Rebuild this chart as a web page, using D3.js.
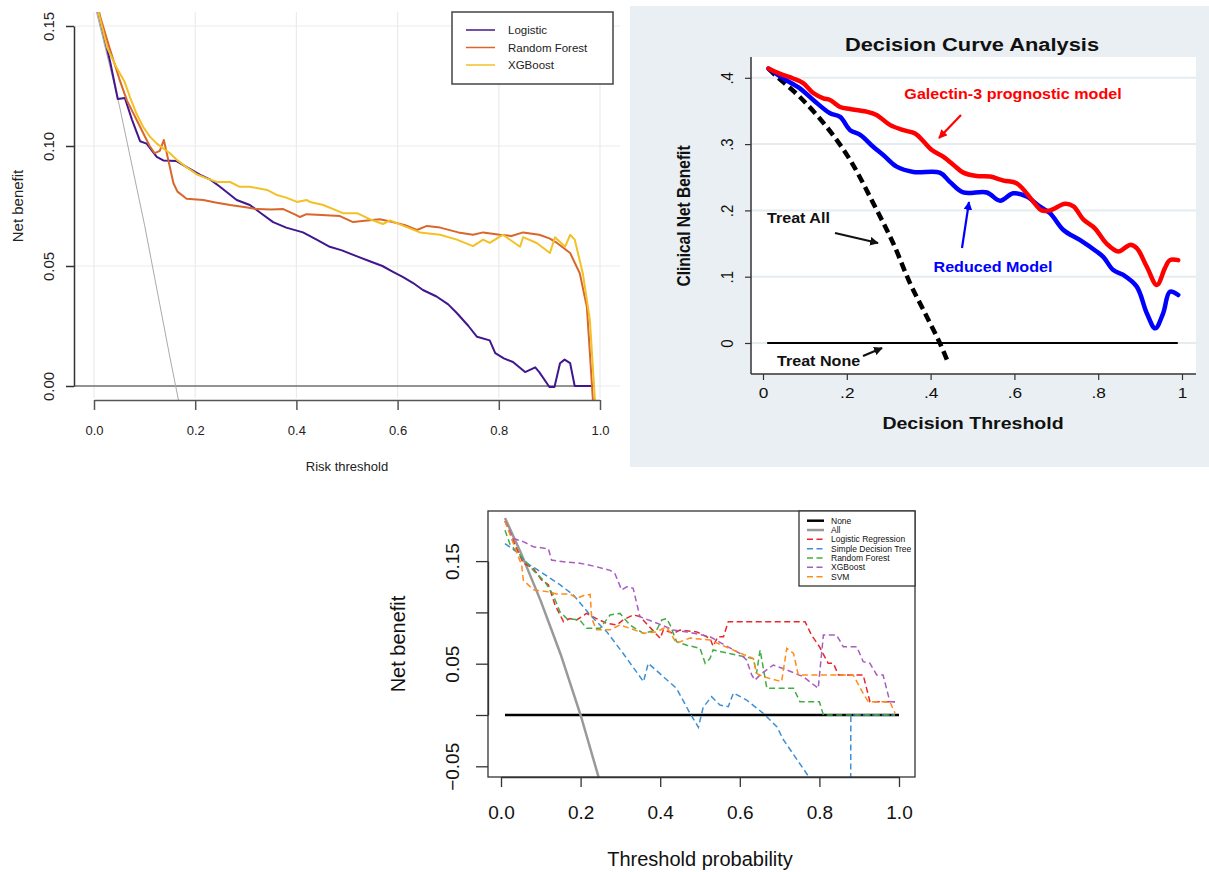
<!DOCTYPE html>
<html><head><meta charset="utf-8">
<script src="https://cdn.jsdelivr.net/npm/d3@7"></script>
<style>
body{margin:0;background:#fff}
svg{display:block}
text{font-family:"Liberation Sans",Arial,Helvetica,sans-serif}
</style>
</head><body>
<svg id="c" width="1209" height="872"></svg>
<script>
// ================= Panel A (top-left) =================
const aXTicks = [0, 0.2, 0.4, 0.6, 0.8, 1.0];
const aYTicks = [0, 0.05, 0.10, 0.15];
const aSeriesNames = ["Logistic", "Random Forest", "XGBoost"];
const aColors = ["#40178f", "#d9662b", "#f3c125"];
const aLogistic = [[0.006,0.158],[0.032,0.135],[0.047,0.1196],[0.061,0.120],[0.075,0.111],[0.091,0.102],[0.104,0.101],[0.124,0.0955],[0.137,0.094],[0.163,0.0937],[0.185,0.091],[0.21,0.088],[0.23,0.086],[0.249,0.083],[0.282,0.0775],[0.308,0.0754],[0.33,0.072],[0.354,0.0683],[0.38,0.066],[0.413,0.064],[0.44,0.061],[0.466,0.058],[0.49,0.0565],[0.52,0.054],[0.545,0.052],[0.57,0.050],[0.59,0.0477],[0.61,0.0455],[0.63,0.043],[0.65,0.040],[0.677,0.0373],[0.70,0.034],[0.717,0.0304],[0.74,0.025],[0.757,0.0205],[0.782,0.019],[0.793,0.0137],[0.81,0.0115],[0.828,0.010],[0.852,0.0058],[0.872,0.0078],[0.88,0.0058],[0.90,-0.0004],[0.91,-0.0004],[0.921,0.0095],[0.93,0.011],[0.941,0.0095],[0.95,0],[0.99,0]];
const aRandomForest = [[0.006,0.160],[0.012,0.154],[0.032,0.140],[0.05,0.128],[0.065,0.119],[0.091,0.108],[0.11,0.100],[0.12,0.097],[0.13,0.098],[0.138,0.1025],[0.147,0.094],[0.157,0.0845],[0.165,0.081],[0.183,0.078],[0.216,0.0775],[0.24,0.0765],[0.269,0.0754],[0.30,0.0745],[0.322,0.0737],[0.35,0.0735],[0.374,0.0737],[0.40,0.0712],[0.407,0.0704],[0.42,0.0716],[0.45,0.0712],[0.486,0.0708],[0.512,0.0683],[0.54,0.069],[0.565,0.0695],[0.59,0.0683],[0.615,0.067],[0.638,0.065],[0.658,0.0667],[0.684,0.066],[0.72,0.064],[0.749,0.063],[0.769,0.064],[0.802,0.063],[0.825,0.0625],[0.848,0.064],[0.88,0.063],[0.90,0.0615],[0.915,0.0596],[0.941,0.0554],[0.96,0.047],[0.974,0.033],[0.98,0.0137],[0.986,-0.006]];
const aXGBoost = [[0.006,0.158],[0.026,0.141],[0.045,0.1325],[0.06,0.127],[0.071,0.1204],[0.085,0.113],[0.097,0.108],[0.11,0.104],[0.124,0.101],[0.15,0.097],[0.165,0.094],[0.184,0.091],[0.205,0.088],[0.223,0.0865],[0.243,0.085],[0.269,0.085],[0.288,0.083],[0.308,0.083],[0.342,0.0817],[0.361,0.0796],[0.38,0.0785],[0.401,0.0767],[0.42,0.0775],[0.427,0.0767],[0.453,0.0754],[0.492,0.072],[0.52,0.072],[0.545,0.0695],[0.571,0.0675],[0.585,0.069],[0.618,0.0662],[0.644,0.064],[0.684,0.063],[0.717,0.061],[0.749,0.0583],[0.769,0.061],[0.782,0.0596],[0.808,0.063],[0.842,0.058],[0.848,0.062],[0.875,0.0596],[0.901,0.0554],[0.911,0.062],[0.931,0.058],[0.941,0.063],[0.95,0.061],[0.966,0.047],[0.98,0.0275],[0.99,-0.006]];
const aTreatAll = [[0.0,0.16],[0.05,0.117],[0.10,0.067],[0.15,0.012],[0.168,-0.007]];
const aTreatNone = [[-0.04,0],[0.99,0]];

// ================= Panel B (top-right) =================
const bXTicks = [0, 0.2, 0.4, 0.6, 0.8, 1];
const bXLabels = ["0", ".2", ".4", ".6", ".8", "1"];
const bYTicks = [0, 0.1, 0.2, 0.3, 0.4];
const bYLabels = ["0", ".1", ".2", ".3", ".4"];
const bGalectin = [[0.013,0.414],[0.041,0.406],[0.072,0.399],[0.096,0.392],[0.12,0.377],[0.144,0.369],[0.16,0.3665],[0.184,0.356],[0.208,0.353],[0.247,0.349],[0.271,0.344],[0.303,0.329],[0.335,0.321],[0.363,0.316],[0.383,0.304],[0.403,0.291],[0.43,0.281],[0.454,0.269],[0.478,0.257],[0.51,0.252],[0.542,0.251],[0.574,0.245],[0.605,0.241],[0.629,0.226],[0.649,0.210],[0.665,0.200],[0.685,0.200],[0.721,0.210],[0.741,0.206],[0.765,0.186],[0.792,0.173],[0.82,0.150],[0.848,0.138],[0.876,0.148],[0.892,0.143],[0.916,0.115],[0.94,0.0875],[0.959,0.1125],[0.971,0.125],[0.991,0.125]];
const bReduced = [[0.013,0.414],[0.048,0.399],[0.088,0.384],[0.12,0.3665],[0.16,0.3465],[0.184,0.341],[0.208,0.321],[0.232,0.314],[0.263,0.296],[0.287,0.2836],[0.319,0.266],[0.359,0.258],[0.422,0.257],[0.446,0.243],[0.478,0.227],[0.534,0.227],[0.566,0.2146],[0.597,0.2258],[0.629,0.221],[0.661,0.2056],[0.685,0.196],[0.717,0.1705],[0.757,0.155],[0.796,0.138],[0.812,0.130],[0.836,0.110],[0.86,0.1026],[0.892,0.085],[0.916,0.0448],[0.936,0.0222],[0.955,0.0448],[0.971,0.0774],[0.991,0.0724]];
const bTreatAll = [[0.013,0.414],[0.033,0.402],[0.088,0.371],[0.152,0.326],[0.208,0.276],[0.263,0.211],[0.311,0.15],[0.351,0.09],[0.391,0.0397],[0.422,0],[0.442,-0.03]];
const bTreatNone = [[0.01,0],[0.99,0]];

// ================= Panel C (bottom) =================
const cXTicks = [0, 0.2, 0.4, 0.6, 0.8, 1.0];
const cYTicks = [-0.05, 0, 0.05, 0.10, 0.15];
const cYLabeled = [-0.05, 0.05, 0.15];
const cNames = ["None", "All", "Logistic Regression", "Simple Decision Tree", "Random Forest", "XGBoost", "SVM"];
const cColors = ["#000000", "#999999", "#e8282c", "#3d8fd6", "#43ad44", "#a95cc0", "#ff8c1a"];
const cNone = [[0.01,0],[1.0,0]];
const cAll = [[0.01,0.192],[0.05,0.158],[0.10,0.111],[0.15,0.059],[0.20,0.0],[0.25,-0.067]];
const cLogistic = [[0.01,0.189],[0.035,0.166],[0.056,0.148],[0.081,0.143],[0.102,0.1316],[0.119,0.127],[0.136,0.107],[0.157,0.091],[0.173,0.094],[0.19,0.0926],[0.215,0.099],[0.24,0.094],[0.266,0.0893],[0.291,0.0877],[0.307,0.0926],[0.332,0.0975],[0.349,0.096],[0.40,0.0747],[0.408,0.083],[0.433,0.0796],[0.45,0.0828],[0.492,0.081],[0.525,0.0747],[0.533,0.067],[0.545,0.0763],[0.559,0.0763],[0.571,0.091],[0.764,0.091],[0.78,0.078],[0.80,0.0666],[0.822,0.0504],[0.835,0.0504],[0.848,0.039],[0.91,0.039],[0.927,0.013],[0.99,0.013]];
const cTree = [[0.01,0.167],[0.039,0.159],[0.065,0.148],[0.098,0.14],[0.148,0.127],[0.182,0.117],[0.224,0.0975],[0.266,0.081],[0.307,0.06],[0.358,0.0325],[0.37,0.0504],[0.408,0.0373],[0.441,0.026],[0.475,0.0016],[0.496,-0.012],[0.508,0.0075],[0.529,0.0178],[0.55,0.0097],[0.571,0.0081],[0.584,0.0215],[0.617,0.0146],[0.659,0.0016],[0.693,-0.0114],[0.71,-0.0244],[0.773,-0.06],[0.83,-0.11],[0.878,-0.16],[0.879,0],[0.99,0]];
const cRandomForest = [[0.01,0.18],[0.023,0.166],[0.048,0.156],[0.081,0.141],[0.11,0.13],[0.131,0.117],[0.148,0.1007],[0.165,0.094],[0.198,0.0926],[0.215,0.0845],[0.249,0.0845],[0.274,0.0975],[0.299,0.099],[0.324,0.0877],[0.358,0.0796],[0.391,0.0828],[0.404,0.0926],[0.416,0.094],[0.425,0.0877],[0.441,0.0715],[0.467,0.068],[0.50,0.065],[0.513,0.0504],[0.525,0.055],[0.533,0.0634],[0.634,0.055],[0.642,0.0406],[0.651,0.0634],[0.668,0.026],[0.735,0.026],[0.751,0.013],[0.80,0.013],[0.81,0],[0.99,0]];
const cXGBoost = [[0.01,0.189],[0.031,0.172],[0.056,0.169],[0.081,0.164],[0.119,0.162],[0.127,0.151],[0.165,0.149],[0.198,0.148],[0.24,0.1445],[0.274,0.141],[0.286,0.138],[0.303,0.122],[0.316,0.125],[0.332,0.1235],[0.349,0.0958],[0.404,0.0877],[0.433,0.0828],[0.467,0.081],[0.525,0.0763],[0.60,0.06],[0.617,0.0536],[0.63,0.039],[0.638,0.034],[0.655,0.0406],[0.684,0.0487],[0.718,0.0439],[0.76,0.0373],[0.797,0.026],[0.81,0.078],[0.843,0.078],[0.86,0.0666],[0.894,0.0666],[0.91,0.052],[0.927,0.0504],[0.944,0.039],[0.96,0.039],[0.977,0.013],[0.99,0.013]];
const cSVM = [[0.01,0.189],[0.039,0.159],[0.052,0.146],[0.056,0.1316],[0.081,0.122],[0.119,0.12],[0.14,0.118],[0.173,0.118],[0.19,0.1137],[0.211,0.117],[0.224,0.1175],[0.228,0.094],[0.24,0.083],[0.274,0.083],[0.299,0.0877],[0.324,0.0845],[0.358,0.0796],[0.391,0.081],[0.416,0.086],[0.441,0.07],[0.475,0.075],[0.525,0.073],[0.634,0.055],[0.642,0.0406],[0.659,0.0373],[0.705,0.0325],[0.718,0.065],[0.735,0.06],[0.747,0.039],[0.885,0.039],[0.91,0.021],[0.923,0.013],[0.977,0.013],[0.99,0.0017]];

// =====================================================
const svg = d3.select("#c");
const defs = svg.append("defs");
const fmt1 = d3.format(".1f"), fmt2 = d3.format(".2f");

// ---------- Panel A ----------
(function(){
  const x = d3.scaleLinear().domain([0,1]).range([94,600]);
  const y = d3.scaleLinear().domain([0,0.15]).range([386,26]);
  const L=74, R=620, T=12, B=400;
  defs.append("clipPath").attr("id","clipA").append("rect").attr("x",L).attr("y",T).attr("width",R-L).attr("height",B-T);
  const g = svg.append("g");
  g.selectAll(".vg").data(aXTicks).join("line").attr("x1",d=>x(d)).attr("x2",d=>x(d)).attr("y1",T).attr("y2",B-2).attr("stroke","#ebebeb").attr("stroke-width",1.2);
  g.selectAll(".hg").data(aYTicks).join("line").attr("x1",L).attr("x2",R).attr("y1",d=>y(d)).attr("y2",d=>y(d)).attr("stroke","#ebebeb").attr("stroke-width",1.2);
  const line = d3.line().x(d=>x(d[0])).y(d=>y(d[1]));
  const lg = g.append("g").attr("clip-path","url(#clipA)");
  lg.append("path").attr("d", d3.line().x(d=> d[0]<0 ? L : x(d[0])).y(d=>y(d[1]))(aTreatNone)).attr("fill","none").attr("stroke","#333").attr("stroke-width",1.2);
  lg.append("path").attr("d",line(aTreatAll)).attr("fill","none").attr("stroke","#aaaaaa").attr("stroke-width",1);
  [aLogistic, aRandomForest, aXGBoost].forEach((s,i)=>{
    lg.append("path").attr("d",line(s)).attr("fill","none").attr("stroke",aColors[i]).attr("stroke-width",2).attr("stroke-linejoin","round");
  });
  // reorder: yellow drawn after orange already, logistic first
  const xa = g.append("g").attr("transform",`translate(0,${B})`)
    .call(d3.axisBottom(x).tickValues(aXTicks).tickFormat(fmt1).tickSize(10).tickSizeOuter(0).tickPadding(16));
  xa.select(".domain").attr("stroke","#555").attr("stroke-width",1.5);
  xa.selectAll(".tick line").attr("stroke","#555").attr("stroke-width",1.5);
  xa.selectAll("text").attr("font-size",13).attr("fill","#222").attr("font-family","Liberation Sans, Arial, sans-serif");
  const ya = g.append("g").attr("transform",`translate(${L},0)`)
    .call(d3.axisLeft(y).tickValues(aYTicks).tickFormat(fmt2).tickSize(8).tickSizeOuter(0));
  ya.select(".domain").attr("stroke","#333").attr("stroke-width",1.5);
  ya.selectAll(".tick line").attr("stroke","#333").attr("stroke-width",1.5);
  ya.selectAll("text").attr("x",null).attr("dy","0.35em").attr("text-anchor","middle")
    .attr("transform","translate(-25,0) rotate(-90)").attr("font-size",15).attr("fill","#222").attr("font-family","Liberation Sans, Arial, sans-serif");
  g.append("text").attr("x",(x(0)+x(1))/2).attr("y",471).attr("text-anchor","middle").attr("font-size",13).attr("fill","#222").text("Risk threshold");
  g.append("text").attr("transform","translate(23,206) rotate(-90)").attr("text-anchor","middle").attr("font-size",15).attr("fill","#222").text("Net benefit");
  // legend
  const lgd = g.append("g");
  lgd.append("rect").attr("x",452).attr("y",12).attr("width",161).attr("height",72).attr("fill","#fff").attr("stroke","#444").attr("stroke-width",1.5);
  aSeriesNames.forEach((n,i)=>{
    const yy = 30 + i*17.5;
    lgd.append("line").attr("x1",466).attr("x2",495).attr("y1",yy).attr("y2",yy).attr("stroke",aColors[i]).attr("stroke-width",1.5);
    lgd.append("text").attr("x",508).attr("y",yy+4).attr("font-size",11.5).attr("fill","#222").text(n);
  });
})();

// ---------- Panel B ----------
(function(){
  const x = d3.scaleLinear().domain([0,1]).range([763,1182]);
  const y = d3.scaleLinear().domain([0,0.4]).range([343,77.8]);
  const L=751, R=1196, T=57, B=374;
  const SX = 1.15;
  const g = svg.append("g");
  g.append("rect").attr("x",630).attr("y",6).attr("width",579).attr("height",461).attr("fill","#e9eff2");
  g.append("rect").attr("x",L).attr("y",T).attr("width",R-L).attr("height",B-T).attr("fill","#fff");
  g.selectAll(".hg").data(bYTicks).join("line").attr("x1",L).attr("x2",R).attr("y1",d=>y(d)).attr("y2",d=>y(d)).attr("stroke","#e4ecf0").attr("stroke-width",2);
  defs.append("clipPath").attr("id","clipB").append("rect").attr("x",L).attr("y",T).attr("width",R-L).attr("height",B-T);
  const lg = g.append("g").attr("clip-path","url(#clipB)");
  const line = d3.line().x(d=>x(d[0])).y(d=>y(d[1]));
  const sm = d3.line().x(d=>x(d[0])).y(d=>y(d[1])).curve(d3.curveCatmullRom.alpha(0.5));
  lg.append("path").attr("d",line(bTreatNone)).attr("fill","none").attr("stroke","#000").attr("stroke-width",2);
  lg.append("path").attr("d",sm(bTreatAll)).attr("fill","none").attr("stroke","#000").attr("stroke-width",4.5).attr("stroke-dasharray","9,5");
  lg.append("path").attr("d",sm(bReduced)).attr("fill","none").attr("stroke","#0000ff").attr("stroke-width",4.5).attr("stroke-linejoin","round").attr("stroke-linecap","round");
  lg.append("path").attr("d",sm(bGalectin)).attr("fill","none").attr("stroke","#ff0000").attr("stroke-width",4.5).attr("stroke-linejoin","round").attr("stroke-linecap","round");
  // axes
  const xa = g.append("g").attr("transform",`translate(0,${B})`)
    .call(d3.axisBottom(x).tickValues(bXTicks).tickFormat((d,i)=>bXLabels[i]).tickSize(6).tickSizeOuter(0).tickPadding(7));
  xa.select(".domain").remove();
  xa.selectAll(".tick line").attr("stroke","#333").attr("stroke-width",1.2);
  xa.selectAll("text").attr("font-size",15).attr("fill","#111").attr("transform",`scale(${SX},1)`).attr("font-family","Liberation Sans, Arial, sans-serif");
  const ya = g.append("g").attr("transform",`translate(${L},0)`)
    .call(d3.axisLeft(y).tickValues(bYTicks).tickFormat((d,i)=>bYLabels[i]).tickSize(6).tickSizeOuter(0));
  ya.select(".domain").remove();
  ya.selectAll(".tick line").attr("stroke","#333").attr("stroke-width",1.2);
  ya.selectAll("text").attr("x",null).attr("dy","0.35em").attr("text-anchor","middle")
    .attr("transform",`translate(-24,0) scale(${SX},1) rotate(-90)`).attr("font-size",15).attr("fill","#111").attr("font-family","Liberation Sans, Arial, sans-serif");
  g.append("line").attr("x1",L).attr("x2",L).attr("y1",T).attr("y2",B).attr("stroke","#333").attr("stroke-width",1.5);
  g.append("line").attr("x1",L).attr("x2",R).attr("y1",B).attr("y2",B).attr("stroke","#333").attr("stroke-width",1.5);
  const txt = (t,px,py,size,col,anchor,weight)=> g.append("text").attr("transform",`translate(${px},${py}) scale(${SX},1)`)
      .attr("text-anchor",anchor).attr("font-size",size).attr("font-weight",weight).attr("fill",col).text(t);
  txt("Decision Curve Analysis",972,51,19,"#111","middle","bold");
  txt("Decision Threshold",973,429,17,"#111","middle","bold");
  g.append("text").attr("transform",`translate(690,216) scale(${SX},1) rotate(-90)`).attr("text-anchor","middle")
    .attr("font-size",15.5).attr("font-weight","bold").attr("fill","#111").text("Clinical Net Benefit");
  txt("Galectin-3 prognostic model",1013,99,14,"#ff0000","middle","bold");
  txt("Reduced Model",993,272,14,"#0000ff","middle","bold");
  txt("Treat All",767,223,14,"#111","start","bold");
  txt("Treat None",777,366,14,"#111","start","bold");
  // arrows
  const arrows = [
    {c:"#ff0000", p:[961,115,939,138]},
    {c:"#0000ff", p:[962,248,969,202]},
    {c:"#111111", p:[835,233,878,243]},
    {c:"#111111", p:[863,356,882,348]}
  ];
  arrows.forEach((a,i)=>{
    const id = "arr"+i;
    defs.append("marker").attr("id",id).attr("viewBox","0 0 10 10").attr("refX",9).attr("refY",5)
      .attr("markerWidth",4).attr("markerHeight",4).attr("orient","auto")
      .append("path").attr("d","M0,0 L10,5 L0,10 z").attr("fill",a.c);
    g.append("line").attr("x1",a.p[0]).attr("y1",a.p[1]).attr("x2",a.p[2]).attr("y2",a.p[3])
      .attr("stroke",a.c).attr("stroke-width",2.2).attr("marker-end",`url(#${id})`);
  });
})();

// ---------- Panel C ----------
(function(){
  const x = d3.scaleLinear().domain([0,1]).range([501,899]);
  const y = d3.scaleLinear().domain([0,0.15]).range([715,561.1]);
  const L=488, R=915, T=511, B=777;
  const g = svg.append("g");
  defs.append("clipPath").attr("id","clipC").append("rect").attr("x",L).attr("y",T).attr("width",R-L).attr("height",B-T);
  const lg = g.append("g").attr("clip-path","url(#clipC)");
  const line = d3.line().x(d=>x(d[0])).y(d=>y(d[1]));
  lg.append("path").attr("d",line(cNone)).attr("fill","none").attr("stroke",cColors[0]).attr("stroke-width",2.5);
  lg.append("path").attr("d",line(cAll)).attr("fill","none").attr("stroke",cColors[1]).attr("stroke-width",2.5);
  [cLogistic, cTree, cRandomForest, cXGBoost, cSVM].forEach((s,i)=>{
    lg.append("path").attr("d",line(s)).attr("fill","none").attr("stroke",cColors[i+2]).attr("stroke-width",1.5).attr("stroke-dasharray","6,3.5");
  });
  g.append("rect").attr("x",L).attr("y",T).attr("width",R-L).attr("height",B-T).attr("fill","none").attr("stroke","#333").attr("stroke-width",1.3);
  const xa = g.append("g").attr("transform",`translate(0,${B})`)
    .call(d3.axisBottom(x).tickValues(cXTicks).tickFormat(fmt1).tickSize(10).tickSizeOuter(0).tickPadding(19));
  xa.select(".domain").attr("stroke","#333").attr("stroke-width",1.3);
  xa.selectAll(".tick line").attr("stroke","#333").attr("stroke-width",1.3);
  xa.selectAll("text").attr("font-size",19).attr("fill","#111").attr("font-family","Liberation Sans, Arial, sans-serif");
  const ya = g.append("g").attr("transform",`translate(${L},0)`)
    .call(d3.axisLeft(y).tickValues(cYTicks).tickFormat(d=> cYLabeled.some(v=>Math.abs(v-d)<1e-9) ? fmt2(d) : "").tickSize(12).tickSizeOuter(0));
  ya.select(".domain").attr("stroke","#333").attr("stroke-width",1.3);
  ya.selectAll(".tick line").attr("stroke","#333").attr("stroke-width",1.3);
  ya.selectAll("text").attr("x",null).attr("dy","0.35em").attr("text-anchor","middle")
    .attr("transform","translate(-36,0) rotate(-90)").attr("font-size",19).attr("fill","#111").attr("font-family","Liberation Sans, Arial, sans-serif");
  g.append("text").attr("x",(x(0)+x(1))/2).attr("y",866).attr("text-anchor","middle").attr("font-size",20).attr("fill","#111").text("Threshold probability");
  g.append("text").attr("transform","translate(405,644) rotate(-90)").attr("text-anchor","middle").attr("font-size",20).attr("fill","#111").text("Net benefit");
  // legend
  const lgd = g.append("g");
  lgd.append("rect").attr("x",799).attr("y",T).attr("width",R-799).attr("height",75).attr("fill","#fff").attr("stroke","#333").attr("stroke-width",1.3);
  cNames.forEach((n,i)=>{
    const yy = 520.7 + i*9.33;
    const ln = lgd.append("line").attr("x1",807).attr("x2",824).attr("y1",yy).attr("y2",yy).attr("stroke",cColors[i]);
    if(i<2) ln.attr("stroke-width",2.5); else ln.attr("stroke-width",1.5).attr("stroke-dasharray","6,3.5");
    lgd.append("text").attr("x",831).attr("y",yy+3).attr("font-size",8.5).attr("fill","#111").text(n);
  });
})();
</script>
</body></html>
